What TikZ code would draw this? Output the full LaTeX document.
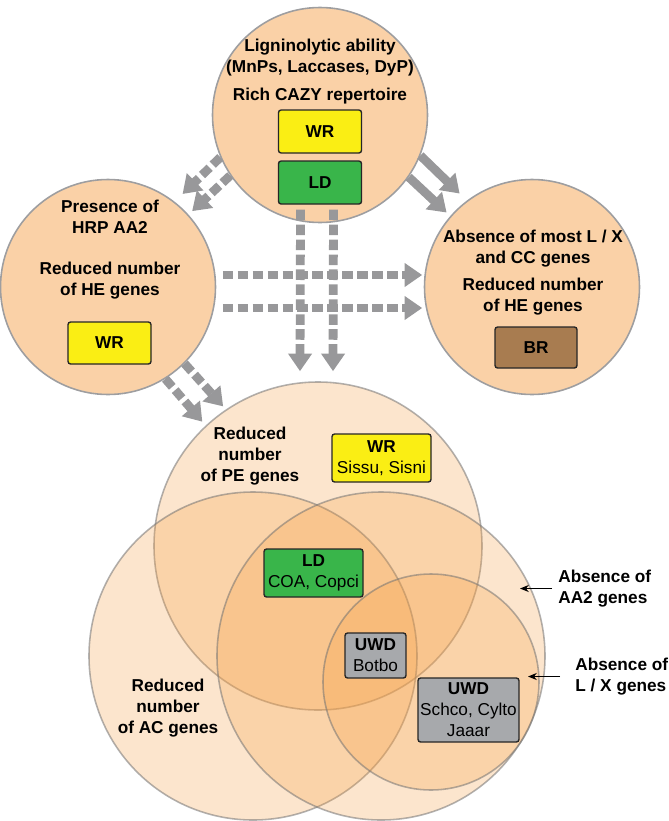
\documentclass[tikz,border=0pt]{standalone}
\usepackage{fontspec}
\setmainfont{Liberation Sans}
\usetikzlibrary{arrows.meta, positioning}
\definecolor{circfill}{RGB}{250,209,167}
\definecolor{circline}{RGB}{158,158,160}
\definecolor{vennfill}{RGB}{245,160,70}
\definecolor{arrowgray}{RGB}{152,152,154}
\definecolor{wryellow}{RGB}{250,238,20}
\definecolor{ldgreen}{RGB}{57,181,74}
\definecolor{brbrown}{RGB}{168,124,80}
\definecolor{uwdgray}{RGB}{167,169,172}

\begin{document}
\begin{tikzpicture}[font=\fontsize{9.8}{12}\selectfont]
    \tikzstyle{group}=[shape=circle, fill=circfill, draw=circline, line width=0.9pt, inner sep=0pt, minimum size=4.3cm]
    \tikzstyle{venn}=[shape=circle, fill=vennfill, fill opacity=0.27, draw=black!55, draw opacity=0.55, line width=0.9pt, inner sep=0pt]
    \tikzstyle{lbl}=[align=center, font=\fontsize{9.8}{12}\selectfont\bfseries]
    \tikzstyle{tag}=[draw=black!85, line width=0.8pt, rounded corners=1.5pt, inner sep=0pt, align=center, minimum width=1.66cm, minimum height=0.86cm]
    \tikzstyle{flow}=[line width=5pt, color=arrowgray, -{Triangle[length=10pt,width=13pt]}]
    \tikzstyle{dflow}=[flow, dash pattern=on 6pt off 2.5pt]

    \useasboundingbox (0,0) rectangle (13.36,-16.42);

    \begin{scope}[shift={(6.40,-2.30)}]
        \node[group] (lig) at (0,0) {};
        \node[lbl] (ligtxt) at (0,1.14) {Ligninolytic ability\\(MnPs, Laccases, DyP)};
        \node[lbl] (cazy) at (0,0.38) {Rich CAZY repertoire};
        \node[tag, fill=wryellow] (wrtop) at (0,-0.33) {\bfseries WR};
        \node[tag, fill=ldgreen] (ldtop) at (0,-1.35) {\bfseries LD};
    \end{scope}

    \begin{scope}[shift={(2.16,-5.74)}]
        \node[group] (hrp) at (0,0) {};
        \node[lbl] (hrptxt) at (0.04,1.40) {Presence of\\HRP AA2};
        \node[lbl] (hrphe) at (0.04,0.13) {Reduced number\\of HE genes};
        \node[tag, fill=wryellow, minimum height=0.84cm] (wrleft) at (0.03,-1.12) {\bfseries WR};
    \end{scope}

    \begin{scope}[shift={(10.64,-5.74)}]
        \node[group] (absn) at (0,0) {};
        \node[lbl] (absntxt) at (0.02,0.76) {Absence of most L / X\\and CC genes};
        \node[lbl] (absnhe) at (0.02,-0.20) {Reduced number\\of HE genes};
        \node[tag, fill=brbrown, minimum width=1.64cm, minimum height=0.82cm] (brright) at (0.08,-1.21) {\bfseries BR};
    \end{scope}

    % arrows between the groups
    \draw[dflow, shorten >=0.22cm] (lig.203) -- (hrp.52);
    \draw[dflow, shorten >=0.1cm] (lig.214) -- (hrp.42);
    \draw[flow, shorten >=0.2cm] (lig.338) -- (absn.127);
    \draw[flow, shorten >=0.1cm] (lig.325) -- (absn.139);
    \draw[dflow, shorten <=0.13cm, shorten >=0.03cm] ([yshift=0.24cm]hrp.east) -- ([yshift=0.24cm]absn.west);
    \draw[dflow, shorten <=0.13cm, shorten >=0.03cm] ([yshift=-0.42cm]hrp.east) -- ([yshift=-0.42cm]absn.west);

    % venn part
    \node[venn, minimum size=6.56cm] (pe) at (6.36,-10.92) {};
    \node[venn, minimum size=6.56cm] (ac) at (5.06,-13.12) {};
    \node[venn, minimum size=6.56cm] (aa2) at (7.62,-13.12) {};
    \node[venn, minimum size=4.32cm] (lx) at (8.62,-13.64) {};

    \draw[dflow] ([xshift=-0.39cm, yshift=-0.1cm]ldtop.south) -- ([xshift=-0.36cm, yshift=0.2cm]pe.north);
    \draw[dflow] ([xshift=0.27cm, yshift=-0.1cm]ldtop.south) -- ([xshift=0.30cm, yshift=0.2cm]pe.north);
    \draw[dflow, shorten >=0.08cm] (hrp.315) -- (pe.124);
    \draw[dflow, shorten >=0.1cm] (hrp.302) -- (pe.133);

    \node[lbl] (pelbl) at (5.00,-9.12) {Reduced\\number\\of PE genes};
    \node[lbl] (aclbl) at (3.36,-14.16) {Reduced\\number\\of AC genes};

    \node[tag, fill=wryellow, minimum width=1.98cm, minimum height=0.96cm] (wrven) at (7.63,-9.16) {\textbf{WR}\\Sissu, Sisni};
    \node[tag, fill=ldgreen, minimum width=1.98cm, minimum height=0.96cm] (ldven) at (6.27,-11.46) {\textbf{LD}\\COA, Copci};
    \node[tag, fill=uwdgray, minimum width=1.22cm, minimum height=0.90cm] (uwdin) at (7.51,-13.11) {\textbf{UWD}\\Botbo};
    \node[tag, fill=uwdgray, minimum width=2.02cm, minimum height=1.28cm] (uwdout) at (9.37,-14.20) {\textbf{UWD}\\Schco, Cylto\\Jaaar};

    \node[lbl, align=left, anchor=west, inner xsep=0.12cm] (aa2lbl) at (11.04,-11.77) {Absence of\\AA2 genes};
    \node[lbl, align=left, anchor=west, inner xsep=0.3cm] (lxlbl) at (11.20,-13.53) {Absence of\\L / X genes};
    \coordinate (aa2pt) at (10.40,-11.80);
    \coordinate (lxpt) at (10.56,-13.58);
    \draw[-{Stealth[length=5pt,width=4pt]}, line width=0.6pt] (aa2lbl.west) -- (aa2lbl.west -| aa2pt);
    \draw[-{Stealth[length=5pt,width=4pt]}, line width=0.6pt] (lxlbl.west) -- (lxlbl.west -| lxpt);
\end{tikzpicture}
\end{document}
